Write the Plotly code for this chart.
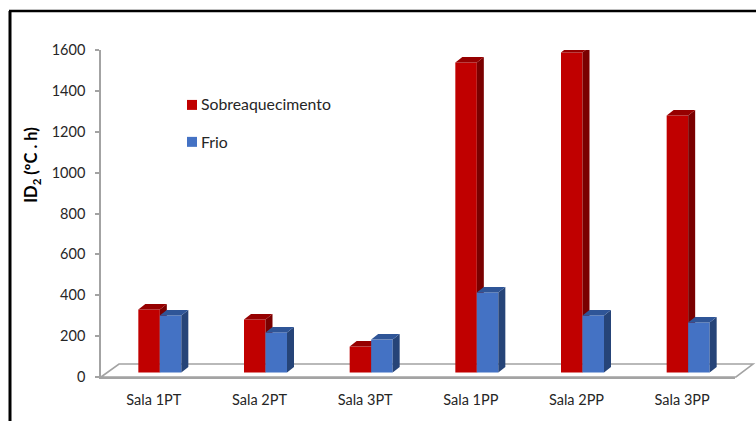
import plotly.graph_objects as go

categories = ["Sala 1PT", "Sala 2PT", "Sala 3PT", "Sala 1PP", "Sala 2PP", "Sala 3PP"]
sobreaquecimento = [308, 259, 127, 1517, 1566, 1257]
frio = [279, 196, 161, 391, 279, 245]
y_ticks = [0, 200, 400, 600, 800, 1000, 1200, 1400, 1600]

W, H = 756, 421
L, R, T, B = 101, 735, 50, 377.5
PW, PH = R - L, B - T
UX = PW / 6
UY = PH / 1600
BAR_W = 21.5 / UX
DX = 7 / UX
DY = 5.5 / UY
BASE = (B - 373) / UY
pos = list(range(6))
TXT = "#262626"
AXC = "#a3a3a3"
FONT = "Lato, Carlito, Calibri, sans-serif"


def px(x):
    return (x - L) / PW


def py(y):
    return (B - y) / PH


def faces(vals, off):
    sx, sy, tx, ty = [], [], [], []
    for p, v in zip(pos, vals):
        x0 = p + off
        x1 = x0 + BAR_W
        top = BASE + v
        sx += [x1, x1 + DX, x1 + DX, x1, x1, None]
        sy += [BASE, BASE + DY, top + DY, top, BASE, None]
        tx += [x0, x0 + DX, x1 + DX, x1, x0, None]
        ty += [top, top + DY, top + DY, top, top, None]
    return sx, sy, tx, ty


def add_series(fig, name, vals, off, front, side, topc, xa, ya):
    fig.add_bar(x=pos, y=vals, base=BASE, width=BAR_W, offset=off, name=name,
                marker=dict(color=front, line=dict(width=0)), xaxis=xa, yaxis=ya,
                showlegend=False)
    sx, sy, tx, ty = faces(vals, off)
    for fx, fy, c in ((sx, sy, side), (tx, ty, topc)):
        fig.add_scatter(x=fx, y=fy, mode="lines", fill="toself", fillcolor=c,
                        line=dict(width=0, color=c), hoverinfo="skip",
                        showlegend=False, cliponaxis=False, xaxis=xa, yaxis=ya)


fig = go.Figure()
add_series(fig, "Sobreaquecimento", sobreaquecimento, -15.5 / UX,
           "#c00000", "#7a0000", "#960000", "x", "y")
add_series(fig, "Frio", frio, 6.0 / UX,
           "#4472c4", "#264478", "#2f5597", "x2", "y2")

floor_path = (f"M {px(L)} {py(B)} L {px(119)} {py(364.5)} L {px(753)} {py(364.5)} "
              f"L {px(736)} {py(B)} Z")
shapes = [
    dict(type="path", path=floor_path, xref="paper", yref="paper", layer="below",
         line=dict(color=AXC, width=1.6), fillcolor="white"),
    # outer border
    dict(type="line", xref="paper", yref="paper", x0=px(10), x1=px(10), y0=py(11), y1=py(430),
         line=dict(color="black", width=3)),
    dict(type="line", xref="paper", yref="paper", x0=px(9), x1=px(760), y0=py(11), y1=py(11),
         line=dict(color="black", width=2.5)),
    # legend keys
    dict(type="rect", xref="paper", yref="paper", x0=px(187), x1=px(197), y0=py(100), y1=py(110),
         fillcolor="#c00000", line=dict(width=0)),
    dict(type="rect", xref="paper", yref="paper", x0=px(187), x1=px(197), y0=py(137), y1=py(147),
         fillcolor="#4472c4", line=dict(width=0)),
]
annotations = [
    dict(text="Sobreaquecimento", xref="paper", yref="paper", x=px(200), y=py(104),
         xanchor="left", yanchor="middle", showarrow=False, borderpad=0,
         font=dict(size=15.8, color=TXT, family=FONT)),
    dict(text="Frio", xref="paper", yref="paper", x=px(200), y=py(142),
         xanchor="left", yanchor="middle", showarrow=False, borderpad=0,
         font=dict(size=15.8, color=TXT, family=FONT)),
    dict(text="<b>ID<sub>2</sub> (ºC . h)</b>", xref="paper", yref="paper", x=px(32), y=py(165),
         xanchor="center", yanchor="middle", textangle=-90, showarrow=False,
         font=dict(size=16.5, color="black", family=FONT)),
]

fig.update_layout(
    width=W, height=H, margin=dict(l=L, r=W - R, t=T, b=H - B),
    paper_bgcolor="white", plot_bgcolor="rgba(0,0,0,0)", barmode="overlay",
    font=dict(family=FONT, size=14, color=TXT), showlegend=False,
    shapes=shapes, annotations=annotations,
    xaxis=dict(range=[-0.5, 5.5], tickmode="array", tickvals=pos, ticktext=categories,
               showgrid=False, zeroline=False, showline=True, linecolor=AXC, linewidth=1.6,
               ticks="", ticklabelstandoff=9, tickfont=dict(size=14.5, color=TXT, family=FONT)),
    yaxis=dict(range=[0, 1600], tickmode="array", tickvals=y_ticks, showgrid=False,
               zeroline=False, showline=True, linecolor=AXC, linewidth=1.6, ticks="outside",
               ticklen=4, tickcolor=AXC, tickwidth=1.5, ticklabelstandoff=7,
               tickfont=dict(size=14.5, color=TXT, family=FONT)),
    xaxis2=dict(overlaying="x", matches="x", visible=False),
    yaxis2=dict(overlaying="y", matches="y", visible=False),
)

fig.write_html("out.html", config=dict(displayModeBar=False),
               post_script="document.body.style.margin='0';document.body.style.overflow='hidden';")
